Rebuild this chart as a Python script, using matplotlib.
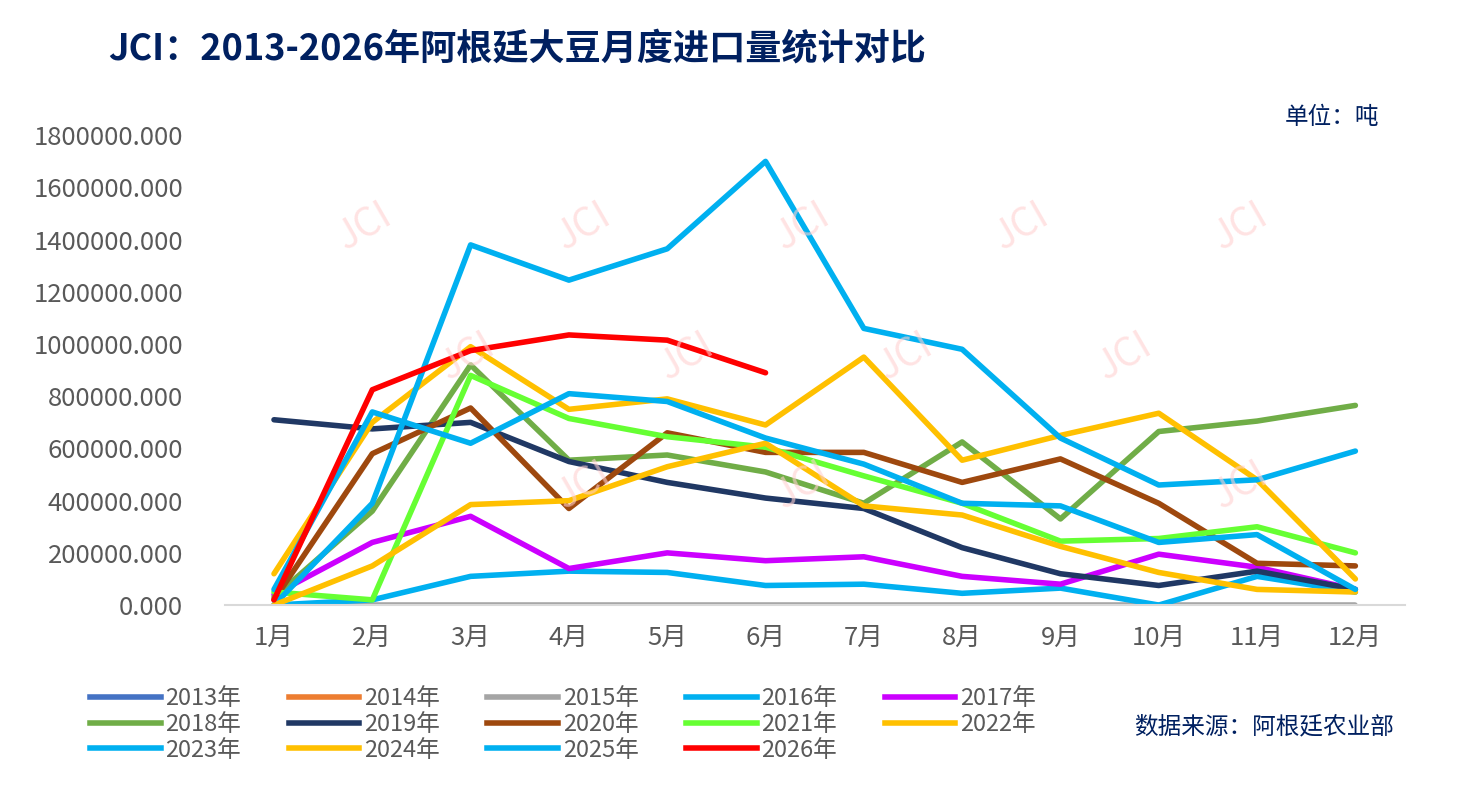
import numpy as np
import matplotlib
matplotlib.use('Agg')
import matplotlib.pyplot as plt
from matplotlib.lines import Line2D

plt.rcParams['font.family'] = ['Noto Sans CJK SC', 'DejaVu Sans']

months = ['%d月' % m for m in range(1, 13)]
s2015 = [0]*12
s2016 = [0, 20000, 110000, 130000, 125000, 75000, 80000, 45000, 65000, 0, 110000, 50000]
s2017 = [40000, 240000, 340000, 140000, 200000, 170000, 185000, 110000, 80000, 195000, 145000, 60000]
s2018 = [30000, 360000, 920000, 555000, 575000, 510000, 390000, 625000, 330000, 665000, 705000, 765000]
s2019 = [710000, 675000, 700000, 550000, 470000, 410000, 370000, 220000, 120000, 75000, 130000, 60000]
s2020 = [20000, 580000, 755000, 370000, 660000, 585000, 585000, 470000, 560000, 390000, 160000, 150000]
s2021 = [50000, 20000, 880000, 715000, 645000, 605000, 495000, 390000, 245000, 255000, 300000, 200000]
s2022 = [120000, 700000, 990000, 750000, 790000, 690000, 950000, 555000, 650000, 735000, 480000, 100000]
s2023 = [0, 390000, 1380000, 1245000, 1365000, 1700000, 1060000, 980000, 640000, 460000, 480000, 590000]
s2024 = [0, 150000, 385000, 400000, 530000, 620000, 380000, 345000, 225000, 125000, 60000, 50000]
s2025 = [60000, 740000, 620000, 810000, 780000, 640000, 540000, 390000, 380000, 240000, 270000, 60000]
s2026 = [20000, 825000, 975000, 1035000, 1015000, 890000]

series = [
    ('2013年', None, '#4472C4'),
    ('2014年', None, '#ED7D31'),
    ('2015年', s2015, '#A5A5A5'),
    ('2016年', s2016, '#00B0F0'),
    ('2017年', s2017, '#CC00FF'),
    ('2018年', s2018, '#70AD47'),
    ('2019年', s2019, '#203864'),
    ('2020年', s2020, '#9E480E'),
    ('2021年', s2021, '#66FF33'),
    ('2022年', s2022, '#FFC000'),
    ('2023年', s2023, '#00B0F0'),
    ('2024年', s2024, '#FFC000'),
    ('2025年', s2025, '#00B0F0'),
    ('2026年', s2026, '#FF0000'),
]

fig = plt.figure(figsize=(14.6, 8.1), dpi=100)
ax = fig.add_axes([0.154, 0.253, 0.808, 0.58])

# faint watermarks
for (wx, wy) in [(0.25, 0.72), (0.4, 0.72), (0.55, 0.72), (0.7, 0.72), (0.85, 0.72),
                 (0.32, 0.56), (0.47, 0.56), (0.62, 0.56), (0.77, 0.56),
                 (0.4, 0.4), (0.55, 0.4), (0.85, 0.4)]:
    fig.text(wx, wy, 'JCI', fontsize=28, color='#FFD0D0', rotation=30,
             ha='center', va='center', alpha=0.6, zorder=0)

x = np.arange(1, 13)
handles = []
for name, vals, col in series:
    if vals is not None:
        ax.plot(x[:len(vals)], vals, color=col, lw=4, solid_capstyle='round', solid_joinstyle='round')
    handles.append(Line2D([], [], color=col, lw=4, label=name))

ax.set_xlim(0.5, 12.5)
ax.set_ylim(0, 1800000)
ax.set_xticks(x)
ax.set_xticklabels(months)
ax.set_yticks(np.arange(0, 1800001, 200000))
ax.set_yticklabels(['%.3f' % v for v in np.arange(0, 1800001, 200000)])
ax.tick_params(axis='both', length=0, labelsize=18.5, colors='#595959')
ax.tick_params(axis='x', pad=14)
ax.tick_params(axis='y', pad=30)
for s in ['top', 'right', 'left']:
    ax.spines[s].set_visible(False)
ax.spines['bottom'].set_color('#D9D9D9')
ax.spines['bottom'].set_linewidth(1.5)

# legend fills column-wise, so reorder to read row by row (5 per row)
order = []
for c in range(5):
    for r in range(3):
        i = r*5 + c
        if i < len(handles):
            order.append(handles[i])
fig.legend(handles=order, ncol=5, loc='upper left', bbox_to_anchor=(0.047, 0.178),
           frameon=False, fontsize=17, handlelength=3.0, columnspacing=2.0,
           labelspacing=0.12, labelcolor='#595959', handletextpad=0.2)

fig.text(0.074, 0.94, 'JCI：2013-2026年阿根廷大豆月度进口量统计对比', fontsize=26,
         fontweight='bold', color='#002060', ha='left', va='center')
fig.text(0.945, 0.855, '单位：吨', fontsize=17, color='#002060', ha='right', va='center')
fig.text(0.955, 0.103, '数据来源：阿根廷农业部', fontsize=17, color='#002060', ha='right', va='center')

fig.savefig('out.png', dpi=100)
